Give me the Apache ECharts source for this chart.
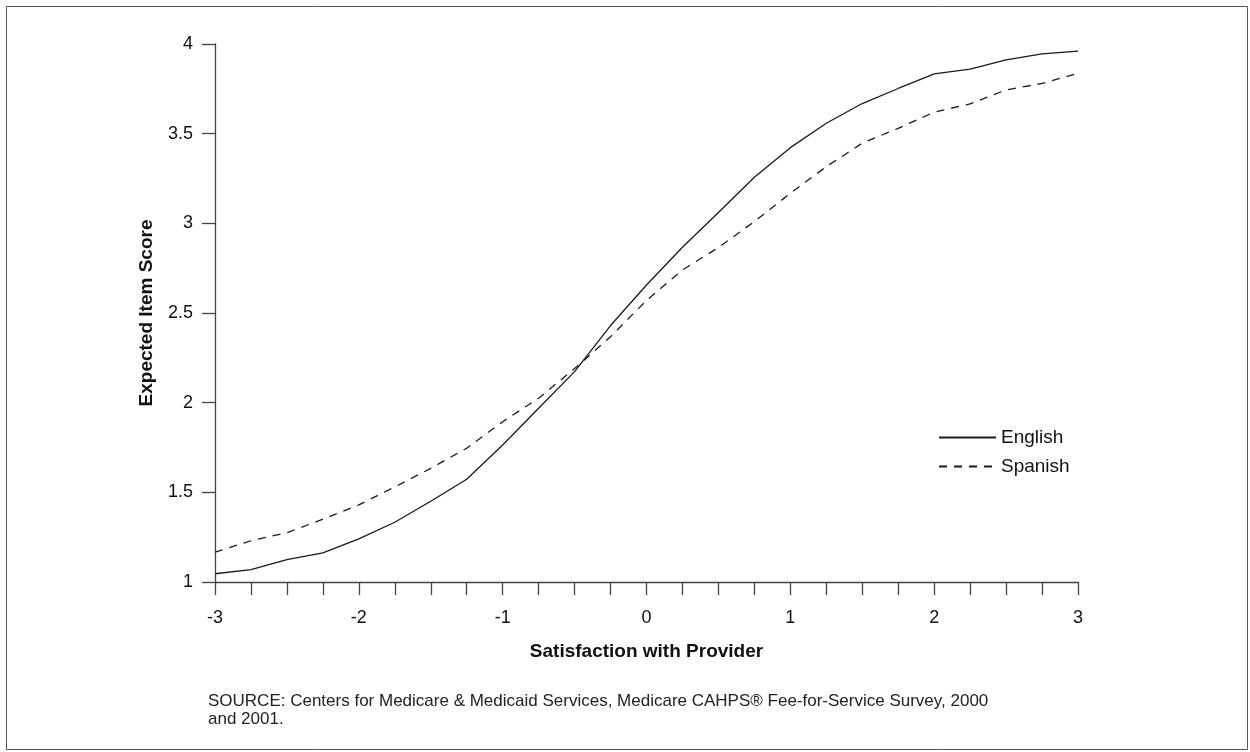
<!DOCTYPE html>
<html>
<head>
<meta charset="utf-8">
<script src="https://cdn.jsdelivr.net/npm/echarts@6/dist/echarts.min.js"></script>
<style>
html,body{margin:0;padding:0;background:#fff;}
#chart{width:1250px;height:752px;}
</style>
</head>
<body>
<div id="chart"></div>
<script>
const xValues = [-3,-2.75,-2.5,-2.25,-2,-1.75,-1.5,-1.25,-1,-0.75,-0.5,-0.25,0,0.25,0.5,0.75,1,1.25,1.5,1.75,2,2.25,2.5,2.75,3];
const english = [1.046,1.069,1.125,1.163,1.24,1.333,1.45,1.573,1.764,1.969,2.173,2.43,2.656,2.867,3.06,3.257,3.422,3.558,3.668,3.752,3.833,3.86,3.911,3.945,3.96];
const spanish = [1.166,1.23,1.275,1.35,1.43,1.53,1.634,1.746,1.894,2.025,2.19,2.368,2.57,2.74,2.865,3.01,3.168,3.316,3.447,3.53,3.62,3.666,3.744,3.78,3.837];
const seriesNames = ['English','Spanish'];
const xAxisTitle = 'Satisfaction with Provider';
const yAxisTitle = 'Expected Item Score';
const sourceText = 'SOURCE: Centers for Medicare & Medicaid Services, Medicare CAHPS® Fee-for-Service Survey, 2000\nand 2001.';

const chart = echarts.init(document.getElementById('chart'), null, {renderer:'canvas'});
const font = 'Liberation Sans, Arial, Helvetica, sans-serif';
const toPairs = ys => xValues.map((x,i)=>[x, ys[i]]);
chart.setOption({
  animation:false,
  backgroundColor:'#fff',
  textStyle:{fontFamily:font},
  grid:{left:215, right:172, top:44, bottom:170, containLabel:false},
  legend:{
    left:933, top:423, orient:'vertical', itemWidth:57, itemHeight:10, itemGap:10,
    itemStyle:{opacity:0},
    textStyle:{fontSize:19, color:'#111', fontFamily:font, padding:[0,0,0,0]},
    data:seriesNames
  },
  xAxis:{
    type:'value', min:-3, max:3, interval:0.25,
    name:xAxisTitle, nameLocation:'middle', nameGap:60,
    nameTextStyle:{fontSize:19, fontWeight:'bold', color:'#111', fontFamily:font},
    axisLine:{show:true, onZero:false, lineStyle:{color:'#444', width:1.3}},
    axisTick:{show:true, inside:false, length:13, lineStyle:{color:'#444', width:1.3}},
    axisLabel:{margin:27, fontSize:18, color:'#111', fontFamily:font,
      formatter:v=>Number.isInteger(v)? String(v) : ''},
    splitLine:{show:false}
  },
  yAxis:{
    type:'value', min:1, max:4, interval:0.5,
    name:yAxisTitle, nameLocation:'middle', nameGap:59, nameRotate:90,
    nameTextStyle:{fontSize:19, fontWeight:'bold', color:'#111', fontFamily:font},
    axisLine:{show:true, onZero:false, lineStyle:{color:'#444', width:1.3}},
    axisTick:{show:true, inside:false, length:13, lineStyle:{color:'#444', width:1.3}},
    axisLabel:{margin:22, fontSize:18, color:'#111', fontFamily:font},
    splitLine:{show:false}
  },
  series:[
    {name:seriesNames[0], type:'line', data:toPairs(english), symbol:'none', smooth:false,
     lineStyle:{color:'#1a1a1a', width:1.3, type:'solid'}, itemStyle:{color:'#1a1a1a'}},
    {name:seriesNames[1], type:'line', data:toPairs(spanish), symbol:'none', smooth:false,
     lineStyle:{color:'#1a1a1a', width:1.3, type:[8,7]}, itemStyle:{color:'#1a1a1a'}}
  ],
  graphic:[
    {type:'rect', left:4, top:4, shape:{x:0,y:0,width:1241,height:743},
     style:{fill:'none', stroke:'#555', lineWidth:1}, silent:true},
    {type:'text', left:208, top:692,
     style:{text:sourceText, font:'17px '+font, fill:'#222', lineHeight:18}}
  ]
});
</script>
</body>
</html>
